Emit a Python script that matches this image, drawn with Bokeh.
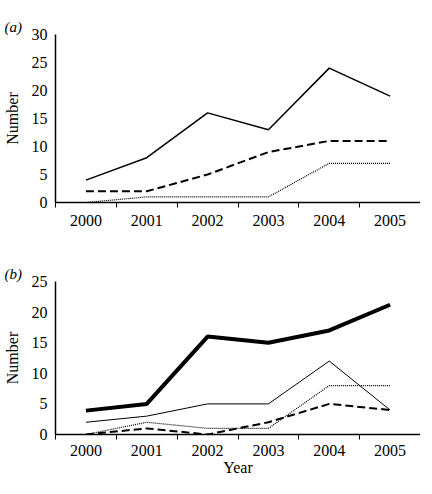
from bokeh.plotting import figure
from bokeh.layouts import column
from bokeh.models import Range1d, FixedTicker
from bokeh.embed import file_html
from bokeh.resources import INLINE

years = [2000, 2001, 2002, 2003, 2004, 2005]

# panel (a)
a_solid = [4, 8, 16, 13, 24, 19]
a_dashed = [2, 2, 5, 9, 11, 11]
a_dotted = [0, 1, 1, 1, 7, 7]

# panel (b)
b_thick = [3.9, 5, 16, 15, 17, 21.2]
b_thin = [2, 3, 5, 5, 12, 4]
b_dotted = [0, 2, 1, 1, 8, 8]
b_dashed = [0, 1, 0, 2, 5, 4]

a_yticks = [0, 5, 10, 15, 20, 25, 30]
b_yticks = [0, 5, 10, 15, 20, 25]

FONT = "Liberation Serif"


def make_fig(height, ymax, yticks, label, xlabel, border_top, border_bottom, lab_standoff):
    p = figure(width=420, height=height, output_backend="svg", toolbar_location=None,
               x_range=Range1d(years[0] - 0.5, years[-1] + 0.5),
               y_range=Range1d(0, ymax),
               min_border_left=46, min_border_right=0,
               min_border_top=border_top, min_border_bottom=border_bottom)
    p.outline_line_color = None
    p.grid.visible = False
    p.title.text = label
    p.title.text_font = FONT
    p.title.text_font_style = "italic"
    p.title.text_font_size = "15px"
    p.title.text_color = "black"
    p.title.align = "left"
    p.title.offset = -51
    p.title.standoff = 0

    bounds = [y - 0.5 for y in years] + [years[-1] + 0.5]
    p.xaxis.ticker = FixedTicker(ticks=years, minor_ticks=bounds)
    p.xaxis.major_tick_out = 0
    p.xaxis.major_tick_in = 0
    p.xaxis.minor_tick_out = 5
    p.xaxis.minor_tick_in = 0
    p.xaxis.minor_tick_line_color = "black"
    p.xaxis.major_label_standoff = lab_standoff
    p.yaxis.ticker = FixedTicker(ticks=yticks)
    p.yaxis.minor_tick_line_color = None
    p.yaxis.major_tick_out = 4
    p.yaxis.major_tick_in = 0
    p.yaxis.major_label_standoff = 4
    p.yaxis.axis_label = "Number"
    p.yaxis.axis_label_standoff = 8
    if xlabel:
        p.xaxis.axis_label = xlabel
        p.xaxis.axis_label_standoff = 0
    for ax in (p.xaxis, p.yaxis):
        ax.axis_line_color = "black"
        ax.axis_line_width = 1.5
        ax.major_tick_line_color = "black" if ax is p.yaxis else None
        ax.major_label_text_font = FONT
        ax.major_label_text_font_size = "16px"
        ax.major_label_text_color = "black"
        ax.axis_label_text_font = FONT
        ax.axis_label_text_font_size = "16px"
        ax.axis_label_text_font_style = "normal"
        ax.axis_label_text_color = "black"
    return p


pa = make_fig(228, 30, a_yticks, "(a)", None, 34, 0, 7)
pa.line(years, a_solid, line_color="black", line_width=1.5)
pa.line(years, a_dashed, line_color="black", line_width=2, line_dash="8 4")
pa.line(years, a_dotted, line_color="black", line_width=1.2, line_dash="1 1")

pb = make_fig(250, 25, b_yticks, "(b)", "Year", 53, 0, 5)
pb.line(years, b_thick, line_color="black", line_width=4)
pb.line(years, b_thin, line_color="black", line_width=1)
pb.line(years, b_dotted, line_color="black", line_width=1.2, line_dash="1 1")
pb.line(years, b_dashed, line_color="black", line_width=2, line_dash="8 4")

layout = column(pa, pb, spacing=0)
open("out.html", "w").write(file_html(layout, INLINE))
